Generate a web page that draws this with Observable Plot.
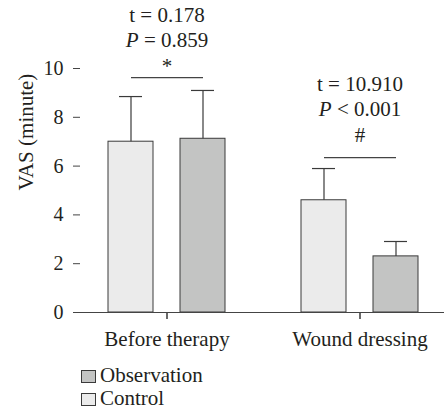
<!DOCTYPE html>
<html>
<head>
<meta charset="utf-8">
<script src="https://cdn.jsdelivr.net/npm/d3@7"></script>
<script src="https://cdn.jsdelivr.net/npm/@observablehq/plot@0.6"></script>
<style>
  html, body { margin: 0; padding: 0; background: #fff; overflow: hidden; }
  #legend { margin-left: 81px; margin-top: 8px; font-size: 21px; line-height: 23px; color: #231f20; }
  .row { display: flex; align-items: center; height: 23px; }
  .sw { width: 13px; height: 11px; border: 1px solid #3a3a3a; margin-right: 4px; margin-top: 1px; }
</style>
</head>
<body>
<div id="chart"></div>
<div id="legend"></div>
<script>
// ---- data ----
const categories = ["Before therapy", "Wound dressing"];
const groups = ["Control", "Observation"];
const controlMean = [7.0, 4.6];
const controlSD = [1.85, 1.3];
const observationMean = [7.12, 2.3];
const observationSD = [1.98, 0.61];
const tStats = ["t = 0.178", "t = 10.910"];
const pStats = ["P = 0.859", "P < 0.001"];
const sigMarks = ["*", "#"];
const bracketLevels = [9.63, 6.35];
const annotationBase = [9.8, 6.97];
const yTicks = [0, 2, 4, 6, 8, 10];
const groupColors = ["#ebebeb", "#c3c4c3"];
const legendOrder = ["Observation", "Control"];

const SERIF = '"Liberation Serif", "Times New Roman", serif';
document.body.style.fontFamily = SERIF;

// ---- table ----
const rows = [];
categories.forEach((c, i) => {
  rows.push({category: c, group: "Control", mean: controlMean[i], sd: controlSD[i]});
  rows.push({category: c, group: "Observation", mean: observationMean[i], sd: observationSD[i]});
});
const annots = categories.map((c, i) => ({
  category: c, t: tStats[i], p: pStats[i], sig: sigMarks[i],
  level: bracketLevels[i], base: annotationBase[i]
}));

const ink = "#231f20";
const axisInk = "#444";
const plot = Plot.plot({
  width: 444,
  height: 356,
  marginLeft: 80,
  marginRight: -4,
  marginTop: 68,
  marginBottom: 44,
  style: {fontFamily: SERIF, fontSize: "20px", color: ink, background: "#fff", overflow: "visible"},
  fx: {domain: categories, paddingInner: 0.103, paddingOuter: 0, align: 0},
  x: {domain: groups, axis: null, paddingInner: 0.37, paddingOuter: 0.377},
  y: {domain: [0, 10]},
  color: {domain: groups, range: groupColors},
  marks: [
    Plot.axisY(yTicks, {tickSize: 7, tickPadding: 10, label: null, fontSize: 20, stroke: axisInk, fill: ink}),
    Plot.axisFx({anchor: "bottom", tickSize: 7, tickPadding: 12, label: null, fontSize: 21, stroke: axisInk, fill: ink}),
    Plot.barY(rows, {fx: "category", x: "group", y: "mean", fill: "group", stroke: "#3a3a3a", strokeWidth: 1}),
    Plot.ruleX(rows, {fx: "category", x: "group", y1: "mean", y2: d => d.mean + d.sd, stroke: "#3a3a3a", strokeWidth: 1.2}),
    Plot.tickY(rows, {fx: "category", x: "group", y: d => d.mean + d.sd, stroke: "#3a3a3a", strokeWidth: 1.2, insetLeft: 11, insetRight: 11}),
    Plot.ruleY([0], {stroke: axisInk, strokeWidth: 1.2, insetRight: -21}),
    Plot.ruleX(categories, {fx: d => d, x: null, y1: () => 0, y2: () => 0, insetBottom: -7, stroke: axisInk, strokeWidth: 1.2}),
    Plot.ruleX([0], {frameAnchor: "left", facet: "exclude", y1: 0, y2: 10, stroke: axisInk, strokeWidth: 1.2}),
    Plot.link(annots, {fx: "category", x1: () => "Control", x2: () => "Observation", y1: "level", y2: "level", stroke: axisInk, strokeWidth: 1.2}),
    Plot.text(annots, {fx: "category", y: "base", text: "sig", lineAnchor: "bottom", fill: ink, fontSize: 21}),
    Plot.text(annots, {fx: "category", y: "base", text: "p", lineAnchor: "bottom", dy: -26, fill: ink, fontSize: 21}),
    Plot.text(annots, {fx: "category", y: "base", text: "t", lineAnchor: "bottom", dy: -51, fill: ink, fontSize: 21}),
    Plot.text(["VAS (minute)"], {fx: () => categories[0], frameAnchor: "left", y: 5, rotate: -90, dx: -54, fill: ink, fontSize: 21, text: d => d})
  ]
});
document.getElementById("chart").appendChild(plot);

// italic P in the statistics
d3.select(plot).selectAll("text").each(function() {
  const s = this.textContent;
  if (/^P [=<]/.test(s) && this.children.length === 0) {
    this.textContent = "";
    d3.select(this).append("tspan").attr("font-style", "italic").text("P");
    d3.select(this).append("tspan").text(s.slice(1));
  }
});

// legend
const leg = d3.select("#legend");
legendOrder.forEach(g => {
  const r = leg.append("div").attr("class", "row");
  r.append("div").attr("class", "sw").style("background", groupColors[groups.indexOf(g)]);
  r.append("span").text(g);
});
</script>
</body>
</html>
